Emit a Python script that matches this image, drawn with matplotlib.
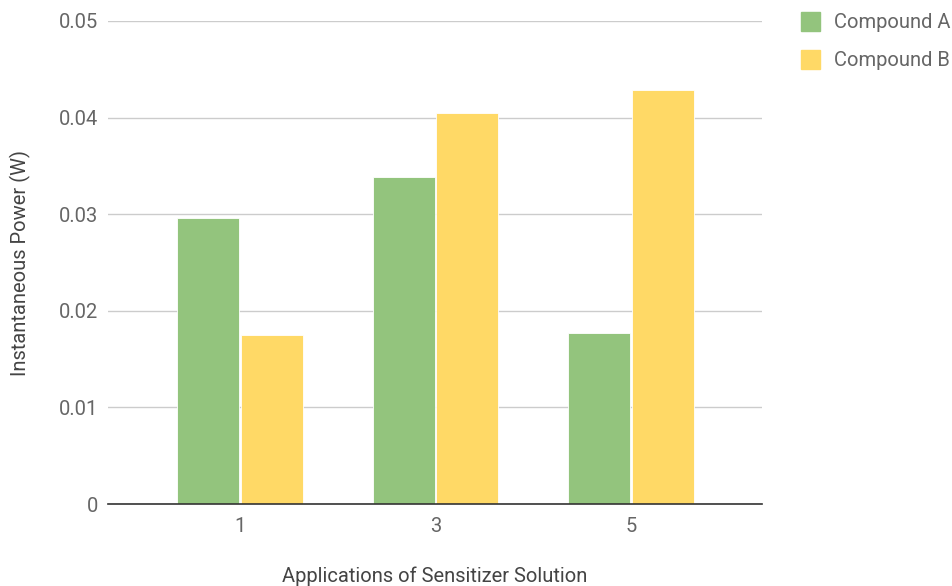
import matplotlib.pyplot as plt
import numpy as np

categories = ["1", "3", "5"]
compound_a = [0.0296, 0.0339, 0.0177]
compound_b = [0.0175, 0.0405, 0.0429]
series_names = ["Compound A", "Compound B"]
colors = ["#93c47d", "#ffd966"]

plt.rcParams['font.family'] = ['Roboto', 'DejaVu Sans']
fs = 14.5

fig = plt.figure(figsize=(9.52, 5.86), dpi=100)
ax = fig.add_axes([108 / 952, 1 - 504 / 586, 654 / 952, 483 / 586])

x = np.arange(len(categories))
w = 0.316
ax.bar(x - w / 2 - 0.005, compound_a, w, color=colors[0], edgecolor="white", linewidth=0.6, zorder=3)
ax.bar(x + w / 2 + 0.005, compound_b, w, color=colors[1], edgecolor="white", linewidth=0.6, zorder=3)

ax.set_xlim(-0.673, 2.668)
ax.set_ylim(0, 0.05)
ax.set_yticks([0, 0.01, 0.02, 0.03, 0.04, 0.05])
ax.set_yticklabels(["0", "0.01", "0.02", "0.03", "0.04", "0.05"])
ax.set_xticks(x)
ax.set_xticklabels(categories)
ax.grid(axis="y", color="#cccccc", linewidth=1, zorder=0)
for s in ["top", "right", "left"]:
    ax.spines[s].set_visible(False)
ax.spines["bottom"].set_color("#333333")
ax.spines["bottom"].set_linewidth(1.2)
ax.spines["bottom"].set_zorder(4)
ax.tick_params(axis="both", length=0, labelsize=fs, colors="#666666")
ax.tick_params(axis="y", pad=7)
ax.tick_params(axis="x", pad=9)

ax.set_xlabel("Applications of Sensitizer Solution", fontsize=fs, color="#444444", labelpad=22)
ax.set_ylabel("Instantaneous Power (W)", fontsize=fs, color="#444444", labelpad=20)

# legend drawn by hand at the upper right
for i, name in enumerate(series_names):
    y = 1 - (22 + 38 * i) / 586
    fig.patches.append(plt.Rectangle((801 / 952, y - 9 / 586), 19 / 952, 19 / 586,
                                     transform=fig.transFigure, color=colors[i]))
    fig.text(834 / 952, y, name, fontsize=fs, color="#666666", va="center", ha="left")

fig.savefig("out.png", dpi=100)
